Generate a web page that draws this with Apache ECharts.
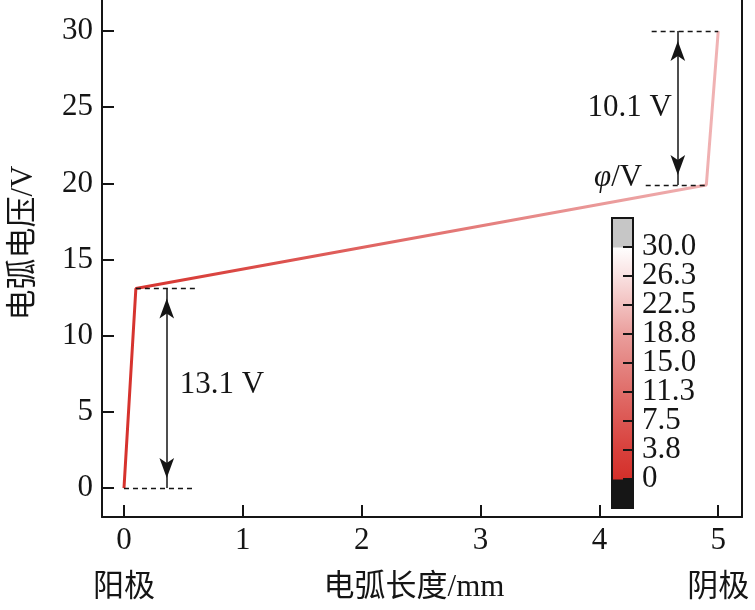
<!DOCTYPE html>
<html>
<head>
<meta charset="utf-8">
<script src="https://cdn.jsdelivr.net/npm/echarts@6/dist/echarts.min.js"></script>
<style>html,body{margin:0;padding:0;background:#fff}#c{width:755px;height:610px}</style>
</head>
<body>
<div id="c"></div>
<script>
// ---- data ----
const arcX = [0, 0.1, 4.9, 5];          // 电弧长度 / mm
const arcV = [0, 13.1, 19.9, 30];       // 电弧电压 / V
const xTicks = [0, 1, 2, 3, 4, 5];
const yTicks = [0, 5, 10, 15, 20, 25, 30];
const cbTicks = [0, 3.75, 7.5, 11.25, 15, 18.75, 22.5, 26.25, 30];
const cbLabels = ['0', '3.8', '7.5', '11.3', '15.0', '18.8', '22.5', '26.3', '30.0'];
const cbBands = [[-3.75, 0], [0, 30], [30, 33.75]];   // under-range, range, over-range
const guideLines = [
  [[0, 0], [0.58, 0]],
  [[0.1, 13.1], [0.61, 13.1]],
  [[4.44, 30], [5, 30]],
  [[4.39, 19.9], [4.9, 19.9]]
];
const arrowLines = [
  [[0.36, 13.1], [0.36, 0]],
  [[4.66, 30], [4.66, 19.9]]
];
const notes = [
  [0.47, 6.8, '13.1 V', 'left'],
  [4.61, 24.95, '10.1 V', 'right'],
  [4.36, 20.35, '{i|φ}/V', 'right']
];
const endLabels = {0: '阳极', 5: '阴极'};

// ---- chart ----
const FONT = '"Liberation Serif", "Noto Sans CJK SC", serif';
const INK = '#151515';
const chart = echarts.init(document.getElementById('c'), null, {renderer: 'canvas'});

const cbStops = [
  {offset: 0, color: '#d42f2a'},
  {offset: 0.125, color: '#d8403b'},
  {offset: 0.25, color: '#dc5652'},
  {offset: 0.375, color: '#e06d69'},
  {offset: 0.5, color: '#e48582'},
  {offset: 0.625, color: '#ea9e9c'},
  {offset: 0.75, color: '#f2c0bf'},
  {offset: 0.875, color: '#f9e1e1'},
  {offset: 1, color: '#ffffff'}
];

const option = {
  backgroundColor: '#fff',
  animation: false,
  textStyle: {fontFamily: FONT},
  grid: [
    {left: 102, right: 13, top: 0, bottom: 93, containLabel: false},
    {left: 612, width: 21, top: 218, height: 290, containLabel: false}
  ],
  xAxis: [
    {
      type: 'value', gridIndex: 0, min: -0.185, max: 5.2,
      axisLine: {show: true, onZero: false, lineStyle: {color: INK, width: 2}},
      axisTick: {show: true, inside: true, length: 12, customValues: xTicks, lineStyle: {color: INK, width: 2}},
      axisLabel: {customValues: xTicks, margin: 8, fontSize: 31, color: INK, fontFamily: FONT},
      splitLine: {show: false},
      name: '电弧长度/mm', nameLocation: 'middle', nameGap: 55,
      nameTextStyle: {fontSize: 31, color: INK, fontFamily: FONT, padding: [0, 16, 0, 0]}
    },
    {
      type: 'value', gridIndex: 0, min: -0.185, max: 5.2, position: 'bottom',
      axisLine: {show: false}, axisTick: {show: false}, splitLine: {show: false},
      axisLabel: {customValues: [0, 5], margin: 55, fontSize: 31, color: INK, fontFamily: FONT,
        formatter: v => endLabels[v] || ''}
    },
    {
      type: 'value', gridIndex: 1, min: 0, max: 1, show: false
    }
  ],
  yAxis: [
    {
      type: 'value', gridIndex: 0, min: -1.9, max: 32.04,
      axisLine: {show: true, onZero: false, lineStyle: {color: INK, width: 2}},
      axisTick: {show: true, inside: true, length: 12, customValues: yTicks, lineStyle: {color: INK, width: 2}},
      axisLabel: {customValues: yTicks, margin: 9, fontSize: 31, color: INK, fontFamily: FONT},
      splitLine: {show: false}
    },
    {
      type: 'value', gridIndex: 0, min: -1.9, max: 32.04, position: 'right',
      axisLine: {show: true, onZero: false, lineStyle: {color: INK, width: 2}},
      axisTick: {show: false}, axisLabel: {show: false}, splitLine: {show: false}
    },
    {
      type: 'value', gridIndex: 1, min: -3.75, max: 33.75, show: false
    }
  ],
  visualMap: [{
    type: 'continuous', show: false, seriesIndex: 0, dimension: 0, min: 0, max: 5,
    inRange: {color: ['#d6322d', '#de5a57', '#e68786', '#f0b3b4']}
  }],
  graphic: [{
    type: 'text', x: 24, y: 243, rotation: Math.PI / 2,
    style: {text: '电弧电压/V', font: '31px ' + FONT, fill: INK,
      align: 'center', verticalAlign: 'middle', textAlign: 'center', textVerticalAlign: 'middle'}
  }],
  series: [
    {
      type: 'line', xAxisIndex: 0, yAxisIndex: 0,
      data: arcX.map((x, i) => [x, arcV[i]]),
      showSymbol: false, symbol: 'none',
      lineStyle: {width: 3}, z: 3
    },
    {
      type: 'scatter', xAxisIndex: 0, yAxisIndex: 0,
      data: notes.map(n => ({value: [n[0], n[1]], label: {align: n[3]}})),
      symbolSize: 0, silent: true, clip: false,
      itemStyle: {opacity: 1, color: 'rgba(0,0,0,0)'},
      label: {
        show: true, position: 'inside', color: INK, fontSize: 31, fontFamily: FONT,
        formatter: p => notes[p.dataIndex][2],
        rich: {i: {fontStyle: 'italic', fontSize: 31, fontFamily: FONT, color: INK}}
      },
      markLine: {
        silent: true, animation: false,
        label: {show: false},
        data: guideLines.map(g => [
          {coord: g[0], symbol: 'none', lineStyle: {type: [5, 4], color: INK, width: 1.3}},
          {coord: g[1], symbol: 'none'}
        ]).concat(arrowLines.map(a => [
          {coord: a[0], symbol: 'arrow', symbolSize: [11, 20], symbolOffset: [0, 10],
            lineStyle: {type: 'solid', color: INK, width: 1.5}, itemStyle: {color: INK}},
          {coord: a[1], symbol: 'arrow', symbolSize: [11, 20], symbolOffset: [0, 10]}
        ]))
      }
    },
    {
      type: 'custom', xAxisIndex: 2, yAxisIndex: 2,
      data: cbBands,
      renderItem: (params, api) => {
        const p0 = api.coord([0, api.value(1)]);
        const p1 = api.coord([1, api.value(0)]);
        const i = params.dataIndex;
        const fill = i === 0 ? '#161616' : i === 2 ? '#c6c6c6'
          : new echarts.graphic.LinearGradient(0, 1, 0, 0, cbStops);
        return {type: 'rect', shape: {x: p0[0], y: p0[1], width: p1[0] - p0[0], height: p1[1] - p0[1] + 0.5},
          style: {fill: fill}};
      }
    },
    {
      type: 'custom', xAxisIndex: 2, yAxisIndex: 2, z: 4,
      data: [[cbBands[0][0], cbBands[2][1]]],
      renderItem: (params, api) => {
        const p0 = api.coord([0, api.value(1)]);
        const p1 = api.coord([1, api.value(0)]);
        return {type: 'rect', shape: {x: p0[0], y: p0[1], width: p1[0] - p0[0], height: p1[1] - p0[1]},
          style: {fill: 'none', stroke: INK, lineWidth: 2}};
      }
    },
    {
      type: 'custom', xAxisIndex: 2, yAxisIndex: 2, z: 5, clip: false,
      data: cbTicks.map((v, i) => [1, v, cbLabels[i]]),
      dimensions: ['x', 'y', {name: 'label', type: 'ordinal'}],
      renderItem: (params, api) => {
        const p = api.coord([api.value(0), api.value(1)]);
        return {type: 'group', children: [
          {type: 'line', shape: {x1: p[0] - 10, y1: p[1], x2: p[0], y2: p[1]},
            style: {stroke: INK, lineWidth: 2}},
          {type: 'text', x: p[0] + 9, y: p[1],
            style: {text: cbLabels[params.dataIndex], font: '31px ' + FONT, fill: INK,
              align: 'left', verticalAlign: 'middle', textAlign: 'left', textVerticalAlign: 'middle'}}
        ]};
      }
    }
  ]
};
chart.setOption(option);
</script>
</body>
</html>
